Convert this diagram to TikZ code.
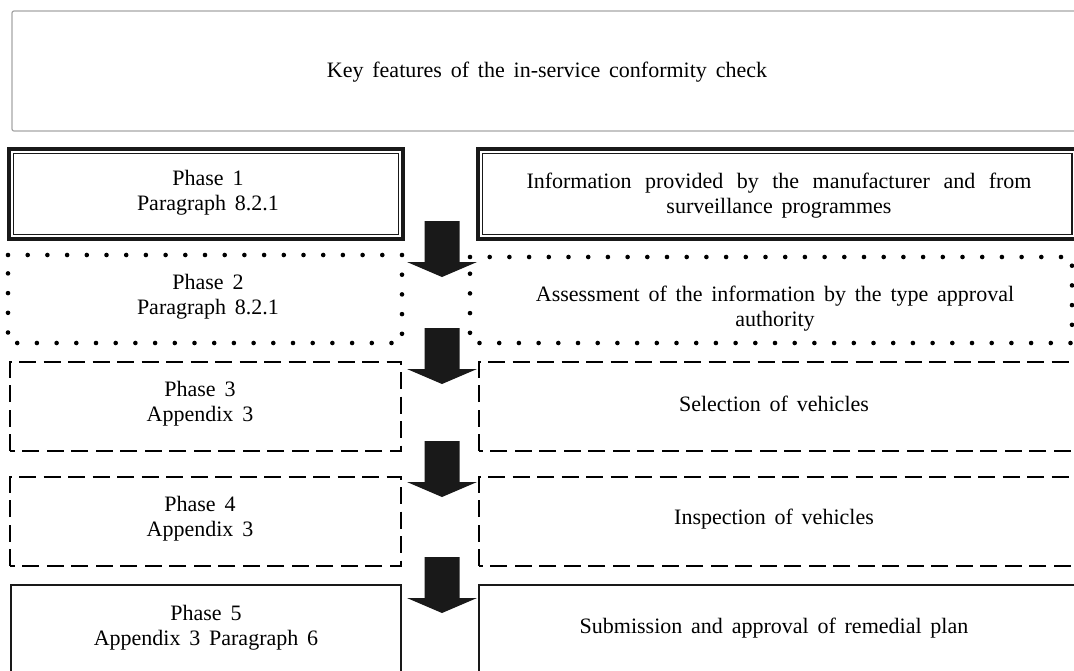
\documentclass[tikz,border=0pt]{standalone}
\usepackage{fontspec}
\setmainfont{Liberation Serif}
\newcommand\mywidefont{\fontsize{22}{25}\selectfont\spaceskip=0.4em plus 0.1em\relax}
\tikzset{
  x=1pt, y=-1pt,
  txt/.style={font=\mywidefont, align=center, inner sep=0pt},
  topbox/.style={draw=black!35, line width=1.2pt, rounded corners=2pt},
  solidouter/.style={draw=black!90, line width=3.6pt},
  solidinner/.style={draw=black!90, line width=1.2pt},
  dotbox/.style={draw=black, line width=4.6pt, line cap=round, dash pattern=on 0pt off 19.7pt},
  dashbox/.style={draw=black, line width=2.4pt, dash pattern=on 17pt off 7.5pt},
  plainbox/.style={draw=black!90, line width=2pt},
  arrowfill/.style={fill=black!90},
  bigarrow/.pic={\fill[arrowfill] (-17.5,0) -- (17.5,0) -- (17.5,41) -- (35,41) -- (0,56) -- (-35,41) -- (-17.5,41) -- cycle;}
}
\begin{document}
\begin{tikzpicture}
\useasboundingbox (0,0) rectangle (1074,670);
\fill[white] (0,0) rectangle (1074,670);
% top box
\draw[topbox] (12,11) rectangle (1090,131);
\node[txt] (title) at (547,72) {Key features of the in-service conformity check};
% phase 1
\draw[solidouter] (9,149) rectangle (403,239);
\draw[solidinner] (13.5,153.5) rectangle (398.5,234.5);
\draw[solidouter] (478,149) rectangle (1080,239);
\draw[solidinner] (482.5,153.5) rectangle (1072,234.5);
\node[txt] (p1) at (208,193) {Phase 1\\Paragraph 8.2.1};
\node[txt] (i1) at (779,196) {\makebox[505pt][s]{Information provided by the manufacturer and from}\\surveillance programmes};
% phase 2
\draw[dotbox] (8,255) -- (402,255) -- (402,343) -- (8,343) -- cycle;
\draw[dotbox] (470,257) -- (1072,257) -- (1072,343) -- (470,343) -- cycle;
\node[txt] (p2) at (208,297) {Phase 2\\Paragraph 8.2.1};
\node[txt] (i2) at (775,309) {Assessment of the information by the type approval\\authority};
% phase 3
\draw[dashbox] (10,451) -- (10,362) -- (401,362) -- (401,451) -- cycle;
\draw[dashbox] (479,451) -- (479,362) -- (1090,362) -- (1090,451) -- cycle;
\node[txt] (p3) at (200,404) {Phase 3\\Appendix 3};
\node[txt] (i3) at (774,404) {Selection of vehicles};
% phase 4
\draw[dashbox] (10,566) -- (10,477) -- (401,477) -- (401,566) -- cycle;
\draw[dashbox] (479,566) -- (479,477) -- (1090,477) -- (1090,566) -- cycle;
\node[txt] (p4) at (200,519) {Phase 4\\Appendix 3};
\node[txt] (i4) at (774,519) {Inspection of vehicles};
% phase 5
\draw[plainbox] (11,690) -- (11,585) -- (401,585) -- (401,690);
\draw[plainbox] (479,690) -- (479,585) -- (1090,585);
\node[txt] (p5) at (206,628) {Phase 5\\Appendix 3 Paragraph 6};
\node[txt] (i5) at (774,628) {Submission and approval of remedial plan};
% arrows
\pic (a1) at (442,221) {bigarrow};
\pic (a2) at (442,328) {bigarrow};
\pic (a3) at (442,441) {bigarrow};
\pic (a4) at (442,557) {bigarrow};
\end{tikzpicture}
\end{document}
